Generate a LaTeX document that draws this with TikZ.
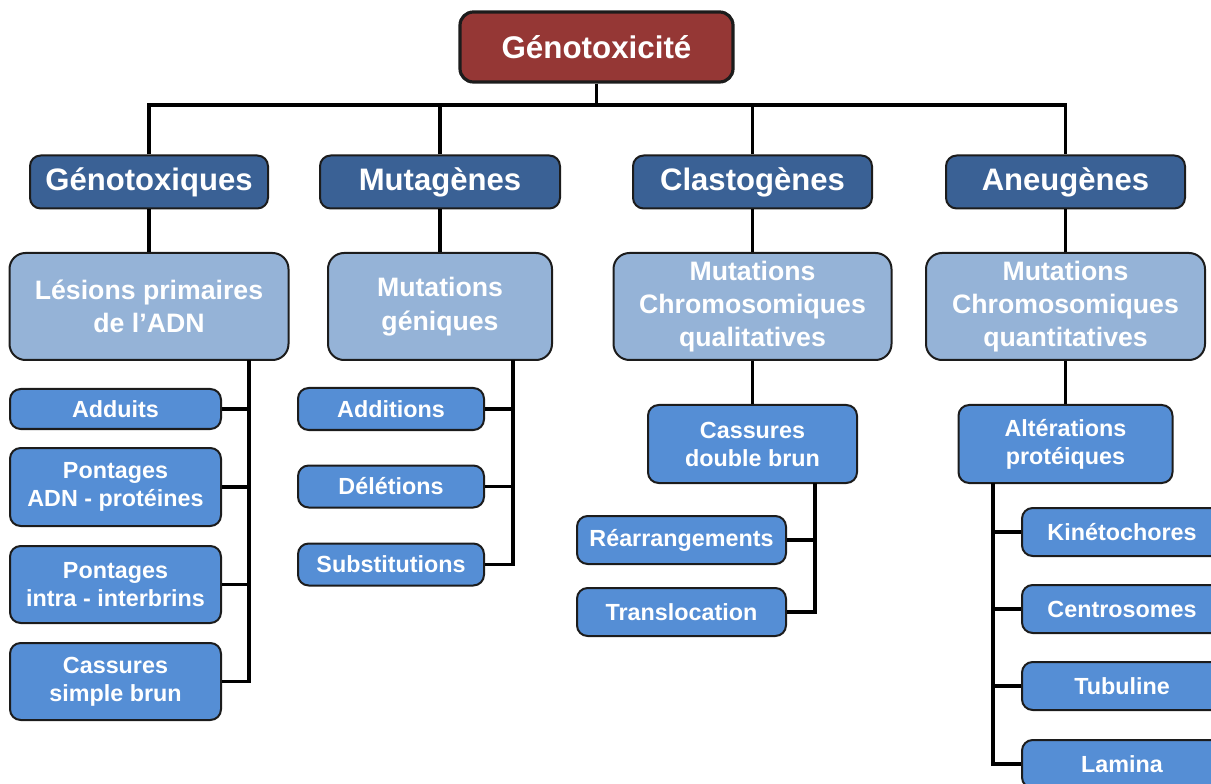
\documentclass[tikz,border=0pt]{standalone}
\usepackage{fontspec}
\setmainfont{Liberation Sans}
\usetikzlibrary{
  positioning, % for relative placement
}
\definecolor{rootred}{HTML}{953735}
\definecolor{catblue}{HTML}{3A6195}
\definecolor{famblue}{HTML}{95B3D7}
\definecolor{itemblue}{HTML}{558ED5}
\definecolor{rimgray}{HTML}{1C1C1C}
\tikzset{
  box/.style={ % common look of every box
    rectangle,rounded corners=8pt, % rounded box
    draw=rimgray,line width=1.5pt, % dark thin rim
    text=white,align=center, % white centred text
    inner sep=0pt, % the size is set by boxsize
  },
  boxsize/.style 2 args={ % width and height in pixels of the reference
    minimum width=#1*0.75pt,
    minimum height=#2*0.75pt,
  },
  root/.style={ % top of the tree
    box,fill=rootred,line width=2.4pt,rounded corners=10pt,
    font=\fontsize{23.5}{28}\selectfont\bfseries,
  },
  category/.style={ % first level
    box,fill=catblue,
    font=\fontsize{23.3}{27}\selectfont\bfseries,
  },
  family/.style={ % second level
    box,fill=famblue,rounded corners=12pt,
    font=\fontsize{20}{25}\selectfont\bfseries,
  },
  item/.style={ % leaves
    box,fill=itemblue,
    font=\fontsize{17.5}{21}\selectfont\bfseries,
  },
  link/.style={ % tree lines
    line width=2.3pt,black,
  },
}

\begin{document}
\begin{tikzpicture}[x=0.75pt,y=-0.75pt]
	\useasboundingbox (0,0) rectangle (1211,784);
	\clip (0,0) rectangle (1211,784);
	
	\node[root,boxsize={273}{70}] (geno) at (596.5,47) {Génotoxicité};
	
	% first level
	\node[category,boxsize={238}{53}] (gtx) at (149,182) {Génotoxiques};
	\node[category,boxsize={240}{53}] (mut) at (440,182) {Mutagènes};
	\node[category,boxsize={239}{53}] (cla) at (752.5,182) {Clastogènes};
	\node[category,boxsize={239}{53}] (ane) at (1065.5,182) {Aneugènes};
	
	% second level
	\node[family,boxsize={279}{107}] (les) at (149,306.5) {Lésions primaires\\de l’ADN};
	\node[family,boxsize={224}{107}] (gen) at (440,306.5) {Mutations\\géniques};
	\node[family,boxsize={278}{107}] (qual) at (752.5,306.5) {Mutations\\Chromosomiques\\qualitatives};
	\node[family,boxsize={279}{107}] (quan) at (1065.5,306.5) {Mutations\\Chromosomiques\\quantitatives};
	
	% leaves of the first column
	\node[item,boxsize={211}{40}] (add) at (115.5,409) {Adduits};
	\node[item,boxsize={211}{78}] (pap) at (115.5,487) {Pontages\\ADN - protéines};
	\node[item,boxsize={211}{77}] (pii) at (115.5,584.5) {Pontages\\intra - interbrins};
	\node[item,boxsize={211}{77}] (csb) at (115.5,681.5) {Cassures\\simple brun};
	
	% leaves of the second column
	\node[item,boxsize={186}{42}] (adi) at (391,409) {Additions};
	\node[item,boxsize={186}{42}] (del) at (391,486.5) {Délétions};
	\node[item,boxsize={186}{42}] (sub) at (391,564.5) {Substitutions};
	
	% third column
	\node[item,boxsize={209}{78}] (cdb) at (752.5,444) {Cassures\\double brun};
	\node[item,boxsize={209}{48}] (rea) at (681.5,540) {Réarrangements};
	\node[item,boxsize={209}{48}] (tra) at (681.5,612) {Translocation};
	
	% fourth column
	\node[item,boxsize={214}{78}] (alt) at (1065.5,444) {Altérations\\protéiques};
	\node[item,boxsize={200}{48}] (kin) at (1122,532) {Kinétochores};
	\node[item,boxsize={200}{48}] (cen) at (1122,609) {Centrosomes};
	\node[item,boxsize={200}{48}] (tub) at (1122,686) {Tubuline};
	\node[item,boxsize={200}{48}] (lam) at (1122,764) {Lamina};
	
	\coordinate (bar) at (0,105);
	\coordinate (t1) at (249,360);
	\coordinate (t2) at (513,360);
	\coordinate (t3) at (815,483);
	\coordinate (t4) at (993,483);
	
	\draw[link] (geno.south) -- (geno.south |- bar);
	\draw[link] (gtx.north) |- (ane.north |- bar) -- (ane.north);
	\foreach \n in {mut,cla}
		\draw[link] (\n.north) -- (\n.north |- bar);
	
	\draw[link] (gtx) -- (les);
	\draw[link] (mut) -- (gen);
	\draw[link] (cla) -- (qual);
	\draw[link] (ane) -- (quan);
	
	\foreach \n in {add,pap,pii,csb}
		\draw[link] (\n.east) -| (t1);
	\foreach \n in {adi,del,sub}
		\draw[link] (\n.east) -| (t2);
	
	\draw[link] (qual) -- (cdb);
	\foreach \n in {rea,tra}
		\draw[link] (\n.east) -| (t3);
	
	\draw[link] (quan) -- (alt);
	\foreach \n in {kin,cen,tub,lam}
		\draw[link] (\n.west) -| (t4);
\end{tikzpicture}
\end{document}
